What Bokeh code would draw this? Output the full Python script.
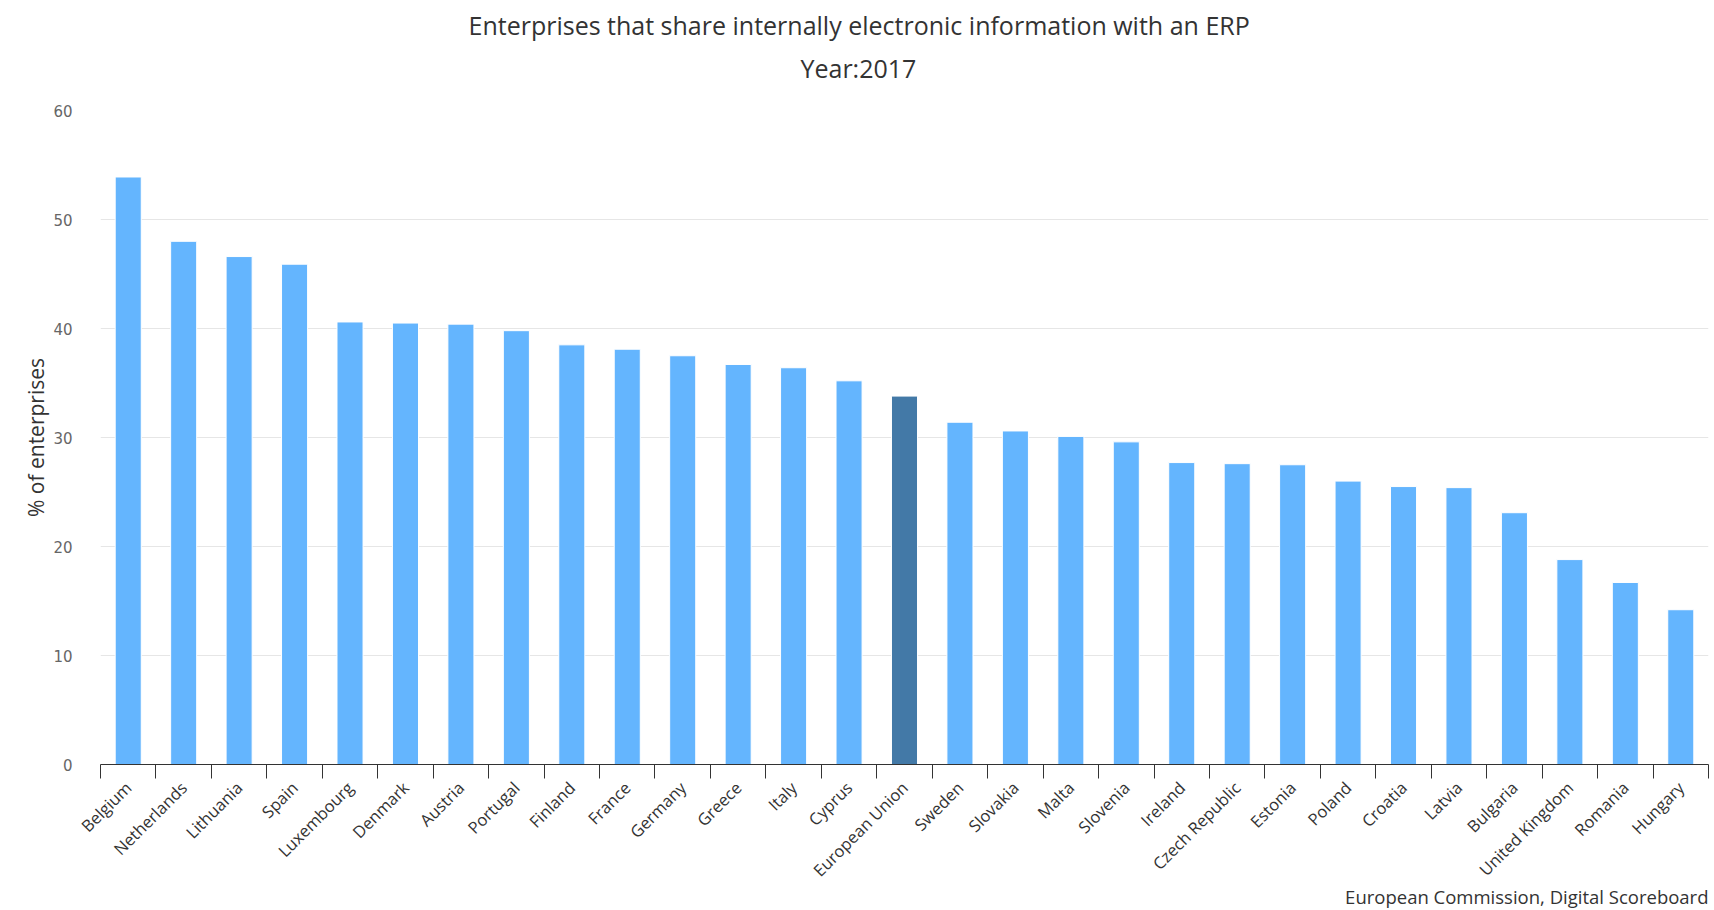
from math import pi
from bokeh.plotting import figure
from bokeh.models import Range1d, FixedTicker, Title, ColumnDataSource
from bokeh.embed import file_html
from bokeh.resources import INLINE

countries = ["Belgium", "Netherlands", "Lithuania", "Spain", "Luxembourg", "Denmark",
             "Austria", "Portugal", "Finland", "France", "Germany", "Greece", "Italy",
             "Cyprus", "European Union", "Sweden", "Slovakia", "Malta", "Slovenia",
             "Ireland", "Czech Republic", "Estonia", "Poland", "Croatia", "Latvia",
             "Bulgaria", "United Kingdom", "Romania", "Hungary"]
values = [53.9, 48.0, 46.6, 45.9, 40.6, 40.5, 40.4, 39.8, 38.5, 38.1, 37.5, 36.7, 36.4,
          35.2, 33.8, 31.4, 30.6, 30.1, 29.6, 27.7, 27.6, 27.5, 26.0, 25.5, 25.4,
          23.1, 18.8, 16.7, 14.2]
highlight = "European Union"
y_ticks = [0, 10, 20, 30, 40, 50, 60]

title_text = "Enterprises that share internally electronic information with an ERP"
subtitle_text = "Year:2017"
y_label = "% of enterprises"
credits_text = "European Commission, Digital Scoreboard"

BAR = "#64b5fe"
BAR_HI = "#4379a7"
FONT = "Open Sans"

n = len(countries)
centers = [i + 0.5 for i in range(n)]
colors = [BAR_HI if c == highlight else BAR for c in countries]
src = ColumnDataSource(dict(x=centers, top=values, color=colors, name=countries))

W, H = 1714, 910
p = figure(width=W, height=H, output_backend="svg", toolbar_location=None,
           x_range=Range1d(0, n), y_range=Range1d(0, 60),
           min_border_left=100, min_border_right=6, min_border_top=110,
           min_border_bottom=146)
p.outline_line_color = None
p.background_fill_color = "white"
p.border_fill_color = "white"

p.vbar(x="x", top="top", bottom=0, width=0.47, source=src,
       fill_color="color", line_color="white", line_width=1)

# titles (centred on the whole figure)
p.title.text = title_text
p.title.align = "left"
p.title.offset = 368
p.title.text_font = FONT
p.title.text_font_size = "25px"
p.title.text_font_style = "normal"
p.title.text_color = "#333333"
p.title.standoff = -39
p.add_layout(Title(text=subtitle_text, align="left", offset=700, text_font=FONT,
                   text_font_size="25px", text_font_style="normal",
                   text_color="#333333", standoff=52), "above")

# x axis
xa = p.xaxis[0]
xa.ticker = FixedTicker(ticks=centers, minor_ticks=list(range(n + 1)))
xa.major_label_overrides = {c: name for c, name in zip(centers, countries)}
xa.major_tick_line_color = None
xa.major_tick_out = 0
xa.major_tick_in = 0
xa.minor_tick_line_color = "#333333"
xa.minor_tick_out = 14
xa.minor_tick_in = 0
xa.axis_line_color = "#333333"
xa.axis_line_width = 1
xa.major_label_orientation = pi / 4
xa.major_label_text_font = FONT
xa.major_label_text_font_size = "16.5px"
xa.major_label_text_color = "#333333"
xa.major_label_standoff = 6
p.xgrid.visible = False

# credits, right aligned under the axis
p.add_layout(Title(text=credits_text, align="right", text_font=FONT,
                   text_font_size="18.5px", text_font_style="normal",
                   text_color="#333333", standoff=-22), "below")

# y axis
ya = p.yaxis[0]
ya.ticker = FixedTicker(ticks=y_ticks)
ya.axis_line_color = None
ya.major_tick_line_color = None
ya.minor_tick_line_color = None
ya.major_label_text_font = "DejaVu Sans"
ya.major_label_text_font_size = "15px"
ya.major_label_text_color = "#666666"
ya.major_label_standoff = 22
ya.axis_label = y_label
ya.axis_label_text_font = FONT
ya.axis_label_text_font_size = "21px"
ya.axis_label_text_font_style = "normal"
ya.axis_label_text_color = "#333333"
ya.axis_label_standoff = 0
p.ygrid.grid_line_color = "#e6e6e6"
p.ygrid.grid_line_width = 1

open("out.html", "w").write(file_html(p, INLINE))
